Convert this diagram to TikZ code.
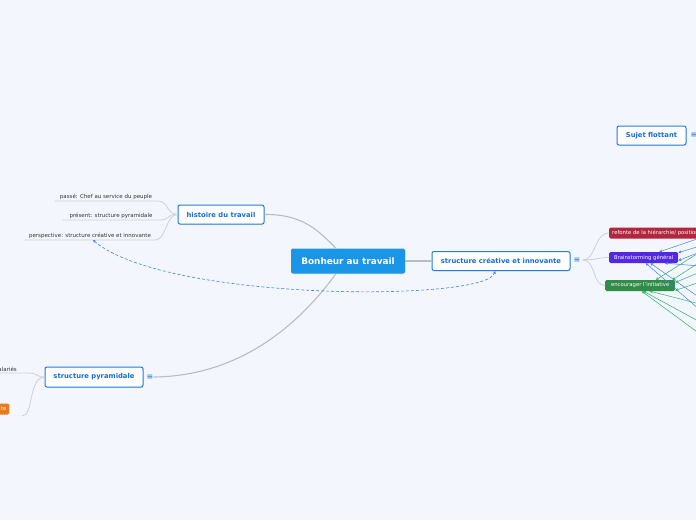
\documentclass[tikz,border=0pt]{standalone}
\usepackage{fontspec}
\setmainfont{DejaVu Sans}
\usetikzlibrary{positioning,arrows.meta,shadows}

\definecolor{bgcol}{RGB}{243,246,253}
\definecolor{rootblue}{RGB}{26,150,232}
\definecolor{framblue}{RGB}{35,125,220}
\definecolor{textblue}{RGB}{20,110,215}
\definecolor{linegray}{RGB}{185,188,198}
\definecolor{leafgray}{RGB}{205,208,215}
\definecolor{redtopic}{RGB}{178,38,62}
\definecolor{purpletopic}{RGB}{84,40,222}
\definecolor{greentopic}{RGB}{48,140,72}
\definecolor{orangetopic}{RGB}{232,122,32}
\definecolor{redlink}{RGB}{222,60,92}
\definecolor{bluelink}{RGB}{62,132,232}
\definecolor{greenlink}{RGB}{44,180,96}

\begin{document}
\begin{tikzpicture}
[
	x=1pt,
	y=-1pt,
	root/.style={rectangle,rounded corners=2pt,fill=rootblue,text=white,font=\bfseries\fontsize{8.9}{10}\selectfont,minimum width=114pt,minimum height=25pt,inner sep=0pt,drop shadow={opacity=0.15,shadow xshift=0.6pt,shadow yshift=-0.8pt}},
	topic/.style={rectangle,rounded corners=2pt,draw=framblue,line width=1pt,fill=white,text=textblue,font=\bfseries\fontsize{6.8}{8}\selectfont,minimum height=19pt,inner sep=0pt,drop shadow={opacity=0.15,shadow xshift=0.6pt,shadow yshift=-0.8pt}},
	coloured/.style={rectangle,rounded corners=1.5pt,fill=#1,text=white,font=\fontsize{5.3}{6}\selectfont,minimum height=11pt,inner xsep=3pt,inner ysep=0pt,anchor=west},
	leaf/.style={font=\fontsize{5.5}{6.5}\selectfont,text=black!80,inner xsep=3pt,inner ysep=1.5pt,anchor=south},
	menu/.style={text=textblue,font=\fontsize{8}{8}\selectfont,inner sep=0pt},
	mainline/.style={draw=linegray,line width=1.1pt},
	leafline/.style={draw=leafgray,line width=0.8pt},
	crosslink/.style={draw=bluelink,line width=0.6pt,dashed,dash pattern=on 3pt off 2pt,{Stealth[length=3pt,width=3pt]}-{Stealth[length=3pt,width=3pt]}},
	rellink/.style={draw=#1,line width=0.5pt,-{Stealth[length=3pt,width=3pt]}}
]

	% background
	\fill[bgcol] (0,0) rectangle (696,520);
	\useasboundingbox (0,0) rectangle (696,520);
	\clip (0,0) rectangle (696,520);

	% main topics
	\node[root] (bonheur) at (348,261) {Bonheur au travail};
	\node[topic,minimum width=86pt] (histoire) at (221,214.5) {histoire du travail};
	\node[topic,minimum width=138pt] (creative) at (501,261) {structure créative et innovante};
	\node[topic,minimum width=98pt,minimum height=20pt] (pyramide) at (94,377) {structure pyramidale};
	\node[topic,minimum width=69pt] (sujet) at (651.5,135.5) {Sujet flottant};

	% menu icons
	\node[menu] (creativemenu) at (577,260) {≡};
	\node[menu] (pyramidemenu) at (150,377) {≡};
	\node[menu] (sujetmenu) at (694,135) {≡};

	% leaves of histoire du travail
	\node[leaf,minimum width=103pt] (passe) at (106,201) {passé: Chef au service du peuple};
	\node[leaf,minimum width=97pt] (present) at (111,220) {présent: structure pyramidale};
	\node[leaf,minimum width=130pt] (perspective) at (90,240) {perspective: structure créative et innovante};
	\foreach \leafname in {passe,present,perspective} {
		\draw[leafline] (\leafname.south west) -- (\leafname.south east)
		  .. controls +(11,0) and (166,214) .. (histoire.west);
	}

	% leaves of structure pyramidale
	\node[leaf,anchor=south east,minimum width=0pt] (salaries) at (20,373) {salariés};
	\coordinate (salariesend) at (28,373);
	\draw[leafline] (salaries.south west) -- (salariesend)
	  .. controls (38,373) and (36,377) .. (pyramide.west);
	\node[coloured=orangetopic,anchor=east,text width=20pt,align=right,inner xsep=3pt] (ajout) at (9.5,409) {te};
	\node[menu,text=white] (ajoutmenu) at (16,409) {≡};
	\coordinate (ajoutend) at (22,416);
	\draw[leafline] (ajoutend) .. controls (34,416) and (28,378) .. (pyramide.west);

	% children of structure creative
	\node[coloured=redtopic,minimum width=100pt,align=left] (refonte) at (609,233) {refonte de la hiérarchie/ positionnement};
	\node[coloured=purpletopic,minimum width=69pt] (brainstorm) at (609,257.5) {Brainstorming général};
	\node[coloured=greentopic,minimum width=70pt] (initiative) at (605,285.5) {encourager l'initiative};
	\coordinate (hub) at (583,260);
	\draw[leafline] (hub) .. controls (596,260) and (594,233) .. (refonte.west);
	\draw[leafline] (hub) .. controls (596,260) and (598,257.5) .. (brainstorm.west);
	\draw[leafline] (hub) .. controls (596,260) and (592,285.5) .. (initiative.west);

	% branches from the central topic
	\draw[mainline] (histoire.east) .. controls (302,214) and (318,230) .. ([xshift=-12pt]bonheur.north);
	\draw[mainline] (bonheur.east) -- (creative.west);
	\draw[mainline] ([xshift=-12pt]bonheur.south) .. controls (308,312) and (250,376) .. (pyramidemenu.east);

	% dashed relation
	\draw[crosslink] ([xshift=3pt]perspective.south) .. controls (165,302) and (488,302) .. ([xshift=-6pt]creative.south);

	% relations coming in from the right
	\foreach \y/\a in {205/60,214/30,240/-30} {
		\coordinate (red\y) at (700,\y);
		\draw[rellink=redlink,dashed,dash pattern=on 2pt off 1.5pt] (red\y) -- ([xshift=74pt]refonte.\a);
	}
	\foreach \y/\a in {238/20,246/8,252/-5,266/-15,298/-40,310/-70} {
		\coordinate (blue\y) at (700,\y);
		\draw[rellink=bluelink] (blue\y) -- (brainstorm.\a);
	}
	\foreach \y/\a in {252/20,262/10,272/5,282/-8,304/-30,322/-60,334/-75} {
		\coordinate (green\y) at (700,\y);
		\draw[rellink=greenlink] (green\y) -- (initiative.\a);
	}

\end{tikzpicture}
\end{document}
